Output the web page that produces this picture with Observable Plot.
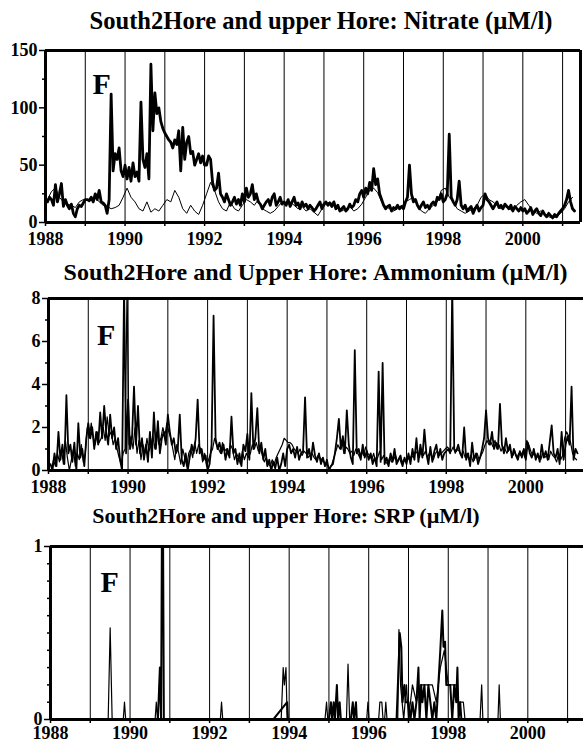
<!DOCTYPE html>
<html><head><meta charset="utf-8">
<script src="https://cdn.jsdelivr.net/npm/d3@7"></script>
<script src="https://cdn.jsdelivr.net/npm/@observablehq/plot@0.6"></script>
<style>
body{margin:0;background:#fff;}
#wrap{position:relative;width:583px;height:744px;overflow:hidden;background:#fff;}
.t{position:absolute;left:0;z-index:2;font-family:"Liberation Serif","Times New Roman",serif;font-weight:bold;font-size:24px;line-height:30px;white-space:nowrap;text-align:center;color:#000;}
.p{position:absolute;left:0;z-index:1;}
</style></head><body><div id="wrap"></div>
<script>
// ---------- data ----------
const titles = [
  "South2Hore and upper Hore: Nitrate (\u00b5M/l)",
  "South2Hore and Upper Hore: Ammonium (\u00b5M/l)",
  "South2Hore and upper Hore: SRP (\u00b5M/l)"
];
const panelLetter = "F";
const yearTicks = [1988,1989,1990,1991,1992,1993,1994,1995,1996,1997,1998,1999,2000,2001];
const gridYears = [1989,1990,1991,1992,1993,1994,1995,1996,1997,1998,1999,2000,2001];

// Nitrate, South2Hore (thick line): samples every 0.05 yr from 1988.05
const nitrateStart = 1988.05, nitrateStep = 0.05;
const nitrateSouth2 = [
 18,22,20,15,33,18,25,34,14,20,15,12,16,8,5,12,15,14,17,20,
 20,19,22,18,25,20,28,18,17,15,8,20,112,45,60,55,65,45,40,50,
 38,48,36,52,40,44,36,105,55,48,60,38,138,80,113,95,100,88,82,78,
 75,72,70,65,72,68,80,45,83,55,70,75,60,62,50,55,60,52,58,50,
 50,58,55,35,28,30,43,25,22,18,25,20,15,18,22,16,20,15,25,18,
 30,22,25,33,20,25,18,16,12,15,18,20,15,22,25,15,18,22,16,18,
 15,20,14,18,22,15,17,12,18,14,16,12,15,13,10,12,15,18,12,16,
 18,15,17,14,18,12,15,10,12,14,10,12,16,13,15,20,18,25,28,22,
 30,25,35,28,47,33,38,25,20,15,12,14,15,10,13,12,15,12,14,12,
 18,22,50,25,18,20,15,12,15,18,13,15,12,16,18,15,22,20,25,18,
 20,25,77,22,18,15,20,36,15,12,15,10,12,14,8,12,15,10,13,15,
 25,20,18,15,12,15,18,13,15,12,16,14,12,15,10,14,12,10,13,10,
 12,8,10,13,7,10,12,8,6,10,7,5,8,6,4,7,5,8,10,12,
 15,20,28,18,12,10
];
// Nitrate, upper Hore (thin line): every 0.1 yr from 1988.05
const nitrateUpperStart = 1988.05, nitrateUpperStep = 0.1;
const nitrateUpper = [
 20,27,30,22,18,16,15,13,18,20,
 20,19,22,18,15,14,12,13,15,22,
 30,22,18,12,10,18,9,12,10,15,
 20,18,28,22,12,8,15,10,7,15,
 25,35,28,18,12,10,18,12,10,15,
 20,18,15,20,12,10,8,10,14,18,
 16,18,15,12,14,10,12,9,6,12,
 16,18,15,12,10,12,14,10,12,16,
 22,28,30,26,18,14,12,10,12,14,
 18,20,22,15,10,8,12,15,18,28,
 30,22,18,12,10,8,10,12,15,22,
 25,20,18,15,12,14,12,10,15,18,
 20,15,10,8,10,7,5,4,5,8,
 12,18,22
];
// Ammonium, South2Hore (thick): every 0.05 yr from 1988.05
const ammStart = 1988.05, ammStep = 0.05;
const ammSouth2 = [
 0.3,0,0.8,0.2,1.8,0.5,1.2,0.3,3.5,0.8,1.2,0.4,1.3,0,2.2,0.6,1.0,0.2,1.5,2.2,
 1.5,2.0,1.0,1.8,1.2,2.7,1.5,3.0,1.8,1.2,2.6,1.5,2.0,1.0,1.5,0.5,0,8.5,0.8,3.3,
 1.0,1.5,3.9,1.2,3.0,0.8,1.5,0.5,1.2,0.4,1.8,0.6,2.7,1.0,2.3,0.8,1.5,1.8,1.2,2.6,
 1.8,1.2,1.5,0.8,1.0,2.6,0.5,0.2,0.8,0,0.6,1.2,0.8,1.5,3.3,0.8,1.0,0.5,0.7,0,
 0.3,1.2,7.2,1.5,1.0,1.3,0.8,1.2,0.5,1.0,0.6,2.5,0.8,1.0,0.3,0.8,0.2,1.2,0.9,1.7,
 0.5,3.6,1.0,1.5,2.9,0.8,1.3,0.5,1.0,0.2,0.5,0,0.4,0.1,0.6,0,0.3,0.8,0.2,1.0,
 1.2,0.8,1.0,0.6,1.1,0.5,0.8,0.9,3.4,0.6,1.0,0.5,1.3,0.7,0.4,0.8,0.3,0.6,0.2,0.5,
 0,0.2,0.3,0.8,1.5,2.4,1.0,1.6,0.8,2.8,1.2,0.6,0.3,5.6,0.8,1.0,0.5,1.2,0.6,0.9,
 0.5,0.8,0.3,0.6,0.2,4.6,0.4,5.0,0.3,0.6,0.2,0.8,0.4,1.0,0.3,0.5,0.7,0.2,0.6,0.3,
 0.8,0.3,1.0,0.5,1.5,0.4,1.2,0.6,1.9,0.8,0.3,1.1,0.4,0.9,1.2,0.6,1.0,0.5,0.8,0.9,
 1.0,0.8,8.5,1.0,0.9,1.2,0.8,0.6,2.0,0.5,0.8,0.2,1.3,0.5,0.8,0.3,0.6,1.0,1.5,2.8,
 1.5,1.2,1.8,1.0,1.3,1.0,3.1,1.2,0.8,1.5,0.9,1.2,0.6,1.0,0.7,0.5,0.9,0.6,1.0,0.5,
 1.3,0.8,0.6,1.0,0.5,0.8,0.4,1.2,0.6,0.9,0.5,1.3,2.1,0.8,0.6,1.0,0.3,1.8,0.5,1.2,
 1.6,1.2,3.9,0.5,1.0,0.8
];
// Ammonium, upper Hore (thin): every 0.05 yr from 1988.075
const ammUpperStart = 1988.075, ammUpperStep = 0.05;
const ammUpper = [
 0,0.5,0.2,0.8,0.4,1.0,0.3,1.4,0.6,0,0.5,1.0,0.2,0.8,0.5,1.2,0.4,0.8,2.0,1.5,
 2.2,1.5,1.2,1.8,1.3,1.5,2.0,1.4,2.5,1.6,1.8,1.2,1.5,1.0,0.6,0.3,0.8,1.0,8.5,1.2,
 1.6,1.0,2.0,0.8,1.4,0.5,1.2,0.8,1.5,0.9,1.2,1.6,1.0,1.8,1.2,1.5,2.0,1.6,2.2,1.8,
 1.5,1.0,0.5,1.2,0.8,0.3,1.0,0.6,0.2,0.8,1.0,0.6,1.3,0.8,1.2,1.0,0.4,0.8,0.2,0.5,
 0.8,1.0,1.5,1.2,1.0,0.8,1.3,0.9,1.0,0.7,1.2,1.0,0.5,0.8,0.6,0.3,0.9,0.5,0.8,0.6,
 0.8,1.2,1.0,1.3,0.9,1.1,0.7,0.4,0.6,0.3,0.2,0.5,0.3,0.6,0.8,1.0,1.2,1.5,1.4,1.3,
 1.3,1.2,1.0,0.9,0.8,1.0,0.7,0.9,0.8,0.6,0.7,0.8,0.6,0.5,0.7,0.6,0.5,0.4,0.3,0.2,
 0.1,0.3,0.6,0.9,1.2,1.0,1.4,0.8,1.1,1.0,0.8,0.9,0.7,1.0,0.8,0.6,0.9,0.7,1.1,0.8,
 0.7,0.5,0.8,0.4,0.6,0.9,0.5,0.7,0.4,0.3,0.6,0.4,0.5,0.7,0.4,0.6,0.3,0.5,0.4,0.6,
 0.5,0.7,0.6,0.9,0.8,0.6,1.0,0.7,0.9,0.6,0.8,0.7,0.5,0.8,0.9,0.7,0.8,0.9,1.0,1.1,
 1.0,0.9,1.1,0.8,1.0,0.9,0.7,0.9,0.6,0.8,0.5,0.7,0.4,0.6,0.8,0.5,0.7,0.9,1.2,1.4,
 1.2,1.3,1.1,1.4,1.0,1.2,0.9,1.1,1.0,0.8,1.0,0.9,0.7,0.9,0.6,0.8,0.7,0.9,0.6,1.4,
 1.2,0.9,0.7,0.8,0.6,0.7,0.5,0.8,0.6,0.7,0.5,0.9,0.7,0.6,0.4,0.8,0.5,0.7,1.5,1.8,
 1.6,1.3,0.8,0.6,0.5
];
// SRP (mostly zero, spikes): [year, value]
const srpSouth2 = [
 [1988.05,0],[1990.7,0],[1990.75,0.3],[1990.78,0],[1990.8,1.05],[1990.83,1.05],[1990.85,0],
 [1993.6,0],[1993.95,0.1],[1993.97,0],[1995.0,0],[1995.05,0.1],[1995.08,0],[1995.12,0.1],[1995.15,0],
 [1995.2,0.2],[1995.23,0],[1995.27,0.1],[1995.3,0],[1995.55,0],[1995.6,0.1],[1995.63,0],[1995.68,0.1],[1995.7,0],
 [1996.7,0],[1996.75,0.3],[1996.78,0.5],[1996.82,0.42],[1996.85,0.1],[1996.9,0.2],[1996.93,0.1],[1997.0,0.1],
 [1997.05,0],[1997.1,0.1],[1997.15,0],[1997.2,0.1],[1997.25,0.3],[1997.28,0],[1997.32,0.2],[1997.35,0.1],
 [1997.4,0.2],[1997.45,0],[1997.5,0.2],[1997.55,0.1],[1997.6,0],[1997.65,0.1],[1997.7,0],[1997.75,0.2],
 [1997.8,0.4],[1997.85,0.63],[1997.88,0.42],[1997.92,0.45],[1997.95,0.2],[1998.05,0.2],[1998.1,0],
 [1998.15,0.2],[1998.2,0.1],[1998.23,0.3],[1998.26,0],[1998.3,0.1],[1998.33,0],[2001.4,0]
];
const srpUpper = [
 [1988.05,0],[1989.45,0],[1989.5,0.53],[1989.55,0],[1989.83,0],[1989.86,0.1],[1989.89,0],
 [1990.63,0],[1990.66,0.1],[1990.69,0],[1990.72,0.1],[1990.76,0.3],[1990.79,0],
 [1992.27,0],[1992.3,0.1],[1992.33,0],[1993.8,0],[1993.85,0.3],[1993.88,0.2],[1993.92,0.3],[1993.95,0],
 [1994.9,0],[1994.94,0.1],[1994.97,0],[1995.44,0],[1995.48,0.32],[1995.52,0],[1995.95,0],[1995.98,0.1],[1996.01,0],
 [1996.25,0],[1996.28,0.1],[1996.33,0.1],[1996.36,0],[1996.4,0],[1996.43,0.1],[1996.46,0],
 [1996.73,0],[1996.76,0.52],[1996.8,0.2],[1996.88,0],[1996.95,0.2],[1997.0,0],[1997.1,0.2],[1997.2,0.1],
 [1997.3,0.2],[1997.6,0.2],[1997.7,0.1],[1997.8,0.3],[1997.9,0.4],[1998.0,0.2],[1998.2,0.2],[1998.25,0.1],
 [1998.38,0.1],[1998.42,0],[1998.8,0],[1998.84,0.2],[1998.87,0],[1999.25,0],[1999.28,0.2],[1999.31,0],[2001.4,0]
];
const nitrateYTicks = [0,50,100,150], nitrateYMinor = [25,75,125];
const ammYTicks = [0,2,4,6,8], ammYMinor = [1,3,5,7];
const srpYTicks = [0,1], srpYMinor = [0.1,0.2,0.3,0.4,0.5,0.6,0.7,0.8,0.9];
const letterPos = [[1989.18,112],[1989.22,5.86],[1989.26,0.736]];

// ---------- helpers ----------
const regular = (start, step, vals) => vals.map((v, i) => ({t: start + i * step, v}));
const pairs = arr => arr.map(([t, v]) => ({t, v}));
const FONT = '"Liberation Serif","Times New Roman",serif';
const wrap = document.getElementById("wrap");

function addTitle(text, top, center, size) {
  const d = document.createElement("div");
  d.className = "t";
  d.style.top = top + "px";
  d.style.width = (2 * center) + "px";
  d.style.fontSize = size + "px";
  d.textContent = text;
  wrap.appendChild(d);
}

function panel(o) {
  const height = o.mT + o.innerH + o.mB;
  const svg = Plot.plot({
    width: 583, height,
    marginLeft: o.L, marginRight: o.R, marginTop: o.mT, marginBottom: o.mB,
    x: {domain: [1988, o.xEnd]},
    y: {domain: o.yDomain},
    style: {fontFamily: FONT, fontWeight: "bold", fontSize: "18px", background: "transparent", color: "black", overflow: "visible"},
    marks: [
      Plot.ruleX(gridYears, {stroke: "black", strokeWidth: 1}),
      ...o.marks,
      Plot.ruleY([o.yDomain[1]], {stroke: "black", strokeWidth: 3}),
      Plot.ruleY([o.yDomain[0]], {stroke: "black", strokeWidth: 3}),
      Plot.ruleX([1988], {stroke: "black", strokeWidth: 3}),
      o.rightFrame ? Plot.ruleX([o.xEnd], {stroke: "black", strokeWidth: 3}) : null,
      Plot.axisX({ticks: yearTicks, label: null, tickSize: 4, tickPadding: o.xPad, strokeWidth: 1.5,
        tickFormat: d => d % 2 === 0 ? String(d) : "", fontSize: 18, fontWeight: "bold"}),
      Plot.axisY({ticks: o.yTicks, label: null, tickSize: 6, tickPadding: 2, strokeWidth: 1.5,
        tickFormat: d => String(d), fontSize: 18, fontWeight: "bold"}),
      Plot.axisY({ticks: o.yMinor, label: null, tickSize: 3, strokeWidth: 1.5, tickFormat: () => ""}),
      Plot.text([o.letter], {x: d => d[0], y: d => d[1], text: () => panelLetter,
        fontSize: 30, fontWeight: "bold", textAnchor: "start", lineAnchor: "bottom", fill: "black"})
    ]
  });
  svg.classList.add("p");
  svg.style.top = o.top + "px";
  wrap.appendChild(svg);
}

// ---------- panel 1: nitrate ----------
addTitle(titles[0], 5.7, 321, 24.6);
panel({
  L: 45, R: 3, top: 30, mT: 20, innerH: 172, mB: 30, xEnd: 2001.45, xPad: 6,
  yDomain: [0, 150], yTicks: nitrateYTicks, yMinor: nitrateYMinor, rightFrame: true,
  letter: letterPos[0],
  marks: [
    Plot.line(regular(nitrateUpperStart, nitrateUpperStep, nitrateUpper), {x: "t", y: "v", stroke: "black", strokeWidth: 1, clip: true}),
    Plot.line(regular(nitrateStart, nitrateStep, nitrateSouth2), {x: "t", y: "v", stroke: "black", strokeWidth: 2.8, clip: true})
  ]
});

// ---------- panel 2: ammonium ----------
addTitle(titles[1], 257, 315.5, 24);
panel({
  L: 48, R: 0, top: 280, mT: 18, innerH: 172, mB: 30, xEnd: 2001.45, xPad: 6,
  yDomain: [0, 8], yTicks: ammYTicks, yMinor: ammYMinor, rightFrame: false,
  letter: letterPos[1],
  marks: [
    Plot.line(regular(ammUpperStart, ammUpperStep, ammUpper), {x: "t", y: "v", stroke: "black", strokeWidth: 1.2, clip: true}),
    Plot.line(regular(ammStart, ammStep, ammSouth2), {x: "t", y: "v", stroke: "black", strokeWidth: 1.8, clip: true})
  ]
});

// ---------- panel 3: SRP ----------
addTitle(titles[2], 500.5, 286, 22);
panel({
  L: 50, R: 0, top: 528, mT: 18, innerH: 173, mB: 25, xEnd: 2001.4, xPad: 3,
  yDomain: [0, 1], yTicks: srpYTicks, yMinor: srpYMinor, rightFrame: false,
  letter: letterPos[2],
  marks: [
    Plot.line(pairs(srpUpper), {x: "t", y: "v", stroke: "black", strokeWidth: 1.2, clip: true}),
    Plot.line(pairs(srpSouth2), {x: "t", y: "v", stroke: "black", strokeWidth: 2, clip: true})
  ]
});
</script></body></html>
